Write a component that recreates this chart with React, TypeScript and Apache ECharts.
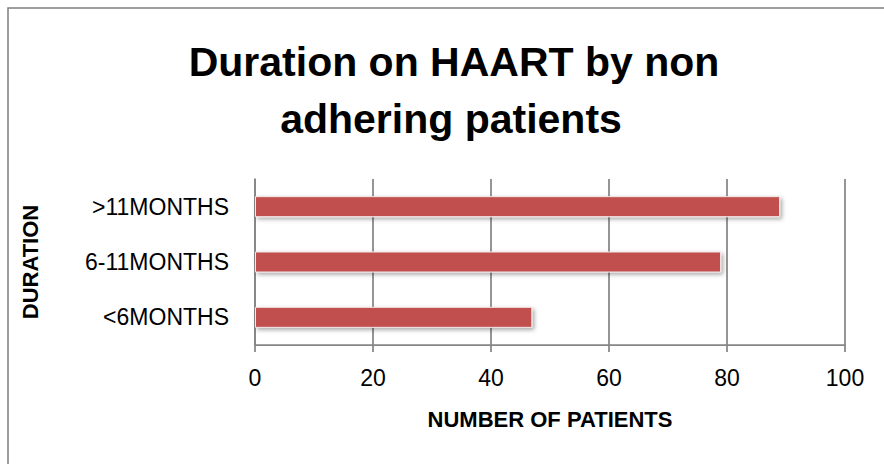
import React, { useEffect, useRef } from "react";
import * as echarts from "echarts";

const titleLines = ["Duration on HAART by non", "adhering patients"];
const categories = ["<6MONTHS", "6-11MONTHS", ">11MONTHS"];
const patients = [47, 79, 89];
const xAxisTitle = "NUMBER OF PATIENTS";
const yAxisTitle = "DURATION";

const FONT = "'Liberation Sans', Arial, sans-serif";
const GREY = "#868686";

export default function App() {
  const ref = useRef<HTMLDivElement>(null);
  useEffect(() => {
    if (!ref.current) return;
    const chart = echarts.init(ref.current, undefined, { renderer: "svg" });
    chart.setOption({
      animation: false,
      backgroundColor: "#ffffff",
      graphic: [
        {
          type: "rect",
          shape: { x: 8, y: 8, width: 1000, height: 1000 },
          style: { fill: "none", stroke: "#7f7f7f", lineWidth: 1.5 },
          silent: true,
        },
        {
          type: "text",
          x: 454,
          y: 62,
          style: {
            text: titleLines[0],
            align: "center",
            verticalAlign: "middle",
            font: `bold 41px ${FONT}`,
            fill: "#000",
          },
        },
        {
          type: "text",
          x: 451,
          y: 119,
          style: {
            text: titleLines[1],
            align: "center",
            verticalAlign: "middle",
            font: `bold 41px ${FONT}`,
            fill: "#000",
          },
        },
      ],
      grid: { left: 255, right: 39, top: 179, bottom: 119, containLabel: false },
      xAxis: {
        type: "value",
        min: 0,
        max: 100,
        interval: 20,
        name: xAxisTitle,
        nameLocation: "middle",
        nameGap: 63,
        nameTextStyle: { fontFamily: FONT, fontSize: 22, fontWeight: "bold", color: "#000" },
        axisLine: { show: true, lineStyle: { color: GREY, width: 1.75 } },
        axisTick: { show: true, length: 7, lineStyle: { color: GREY, width: 1.75 } },
        axisLabel: { margin: 21, fontFamily: FONT, fontSize: 23, color: "#000" },
        splitLine: { show: true, lineStyle: { color: GREY, width: 1.75 } },
      },
      yAxis: {
        type: "category",
        data: categories,
        name: yAxisTitle,
        nameLocation: "middle",
        nameRotate: 90,
        nameGap: 214,
        nameTextStyle: { fontFamily: FONT, fontSize: 22, fontWeight: "bold", color: "#000" },
        axisLine: { show: true, lineStyle: { color: GREY, width: 1.75 } },
        axisTick: { show: false },
        axisLabel: { margin: 26, fontFamily: FONT, fontSize: 23, color: "#000" },
        splitLine: { show: false },
      },
      series: [
        {
          type: "bar",
          data: patients,
          barWidth: 21,
          itemStyle: {
            color: "#C0504D",
            borderColor: "#f4e6e6",
            borderWidth: 1,
            shadowColor: "rgba(0,0,0,0.35)",
            shadowBlur: 4,
            shadowOffsetX: 2,
            shadowOffsetY: 2,
          },
        },
      ],
    });
    return () => chart.dispose();
  }, []);
  return (
    <div
      ref={ref}
      style={{ position: "fixed", left: 0, top: 0, width: 884, height: 464 }}
    />
  );
}
